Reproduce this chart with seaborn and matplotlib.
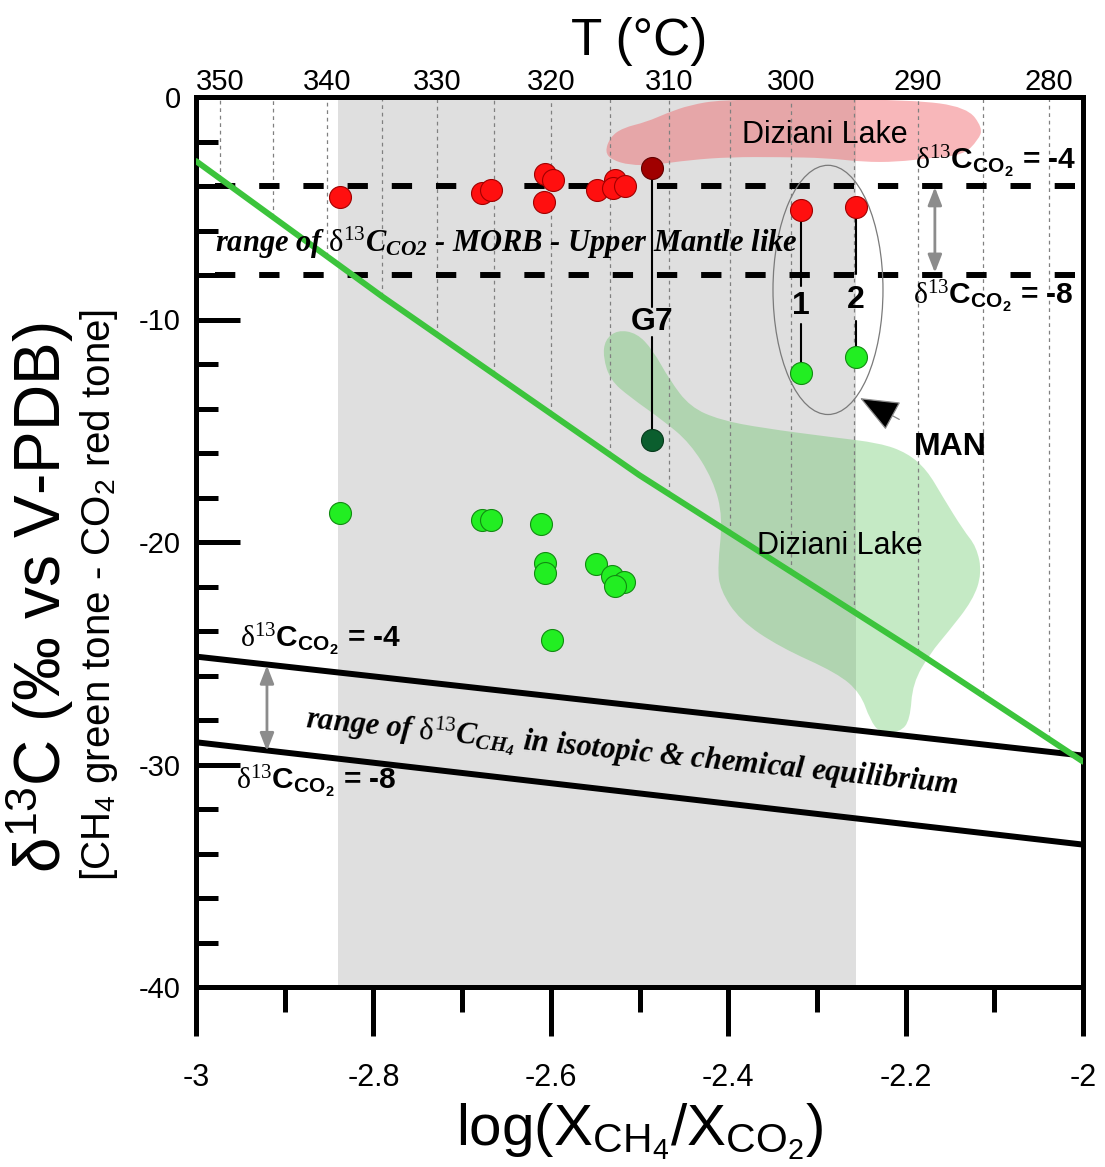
import numpy as np
import pandas as pd
import matplotlib
matplotlib.use("Agg")
import matplotlib.pyplot as plt
import seaborn as sns
from matplotlib.patches import PathPatch, Ellipse
from matplotlib.path import Path
from matplotlib.ticker import MultipleLocator, FixedLocator, FixedFormatter

# ---------------- data ----------------
# CO2 (red) and CH4 (green) isotope compositions of the gas samples
co2_x = [-2.838, -2.678, -2.667, -2.606, -2.598, -2.608, -2.548, -2.528, -2.530, -2.516]
co2_y = [-4.48, -4.30, -4.18, -3.47, -3.73, -4.70, -4.18, -3.73, -4.10, -4.00]
ch4_x = [-2.838, -2.678, -2.667, -2.611, -2.606, -2.607, -2.549, -2.531, -2.518, -2.528, -2.599]
ch4_y = [-18.71, -19.01, -19.01, -19.20, -20.96, -21.40, -21.00, -21.55, -21.78, -21.97, -24.40]

# sample G7
g7_x = -2.486
g7_co2 = -3.17
g7_ch4 = -15.42

# MAN samples 1 and 2
man_x = [-2.318, -2.256]
man_co2 = [-5.08, -4.96]
man_ch4 = [-12.42, -11.67]
man_ids = ["1", "2"]

# CH4 isotope curve (green line)
curve_x = [-3.0, -2.79, -2.5, -2.185, -2.0]
curve_y = [-2.88, -8.97, -17.0, -25.0, -29.87]

# equilibrium lines for d13C_CO2 = -4 and -8
eq_x = [-3.0, -2.0]
eq_upper = [-25.15, -29.6]
eq_lower = [-29.0, -33.6]

# MORB-like range of d13C_CO2
morb_levels = [-4, -8]

# shaded range of log(XCH4/XCO2)
band = (-2.84, -2.256)

# tick labels
x_ticks = [-3, -2.8, -2.6, -2.4, -2.2, -2]
x_labels = ["-3", "-2.8", "-2.6", "-2.4", "-2.2", "-2"]
y_ticks = [-40, -30, -20, -10, 0]
y_labels = ["-40", "-30", "-20", "-10", "0"]

# temperature grid (degC) for the top axis
t_ticks = [350, 340, 330, 320, 310, 300, 290, 280]
t_lines = [350, 345, 340, 335, 330, 325, 320, 315, 310, 305, 300, 295, 290, 285, 280]
t_a, t_b = -10.353, 4599.0   # log(XCH4/XCO2) = a + b / T(K)

# Diziani Lake fields
lake_co2_x = [-2.539, -2.533, -2.519, -2.492, -2.469, -2.443, -2.409, -2.319, -2.192, -2.131,
              -2.113, -2.118, -2.135, -2.172, -2.210, -2.248, -2.289, -2.342, -2.398, -2.443,
              -2.485, -2.511, -2.531]
lake_co2_y = [-2.47, -1.80, -1.39, -1.12, -0.72, -0.36, -0.13, -0.09, -0.13, -0.45,
              -1.39, -1.93, -2.61, -2.74, -2.92, -2.92, -2.74, -2.70, -2.70, -2.83,
              -3.06, -3.06, -2.83]
lake_ch4_x = [-2.539, -2.525, -2.503, -2.485, -2.466, -2.443, -2.409, -2.361, -2.285, -2.229,
              -2.198, -2.176, -2.158, -2.135, -2.120, -2.114, -2.124, -2.153, -2.172, -2.192,
              -2.195, -2.206, -2.229, -2.240, -2.251, -2.277, -2.342, -2.387, -2.409, -2.412,
              -2.406, -2.417, -2.443, -2.474, -2.511, -2.533, -2.541]
lake_ch4_y = [-10.92, -10.47, -10.61, -11.37, -12.72, -13.93, -14.52, -14.88, -15.28, -15.55,
              -16.00, -16.76, -17.98, -19.46, -20.22, -21.39, -22.61, -24.09, -24.99, -26.34,
              -28.00, -28.54, -28.58, -28.00, -26.79, -25.89, -24.72, -23.51, -22.16, -21.12,
              -18.88, -17.21, -15.55, -14.52, -13.48, -12.72, -11.69]

# ---------------- style ----------------
sns.set_theme(style="white")
plt.rcParams["font.family"] = ["Liberation Sans", "DejaVu Sans"]
plt.rcParams["mathtext.fontset"] = "custom"
plt.rcParams["mathtext.rm"] = "Liberation Serif"
plt.rcParams["mathtext.it"] = "Liberation Serif:italic"
plt.rcParams["mathtext.bf"] = "Liberation Sans:bold"
plt.rcParams["mathtext.sf"] = "Liberation Sans"
plt.rcParams["mathtext.bfit"] = "Liberation Serif:bold:italic"
plt.rcParams["axes.unicode_minus"] = False
for key in ["text.color", "axes.labelcolor", "xtick.color", "ytick.color", "axes.edgecolor"]:
    plt.rcParams[key] = "black"

W, H = 1105, 1167
fig = plt.figure(figsize=(W / 100, H / 100), dpi=100)
ax = fig.add_axes([196 / W, 1 - 987 / H, 887 / W, 890 / H])
ax.set_facecolor("white")

# shaded band
ax.axvspan(*band, color="#dfdfdf", lw=0, zorder=0)


def smooth_patch(xs, ys, **kw):
    pts = np.column_stack([xs, ys])
    n = len(pts)
    mids = (pts + np.roll(pts, -1, axis=0)) / 2
    verts = [mids[-1]]
    codes = [Path.MOVETO]
    for i in range(n):
        verts += [pts[i], mids[i]]
        codes += [Path.CURVE3, Path.CURVE3]
    verts.append(mids[-1])
    codes.append(Path.CLOSEPOLY)
    return PathPatch(Path(verts, codes), **kw)


ax.add_patch(smooth_patch(lake_co2_x, lake_co2_y, fc=(0.94, 0.38, 0.40), alpha=0.45, lw=0, zorder=1))
ax.add_patch(smooth_patch(lake_ch4_x, lake_ch4_y, fc=(0.30, 0.75, 0.30), alpha=0.32, lw=0, zorder=1))

# temperature isolines down to the CH4 curve
tl_x = [t_a + t_b / (t + 273.15) for t in t_lines]
tl_y = np.interp(tl_x, curve_x, curve_y)
ax.vlines(tl_x, tl_y, 0, colors="#808080", linestyles=(0, (3, 3)), lw=0.9, zorder=2)

# MORB-like d13C_CO2 range
for lv in morb_levels:
    sns.lineplot(x=[-2.979, -2.0], y=[lv, lv], ax=ax, color="black", lw=4.3,
                 zorder=3).lines[-1].set_dashes((3.4, 4.0))

# equilibrium lines and CH4 curve
sns.lineplot(x=eq_x, y=eq_upper, ax=ax, color="black", lw=4.3, zorder=3)
sns.lineplot(x=eq_x, y=eq_lower, ax=ax, color="black", lw=4.3, zorder=3)
sns.lineplot(x=curve_x, y=curve_y, ax=ax, color="#3cc43c", lw=4.3, zorder=4)

# tie lines between CO2 and CH4 of the same sample (broken around the label)
tie_gaps = {"G7": (-9.45, -10.8), "1": (-8.5, -10.2), "2": (-7.95, -10.05)}
ax.plot([g7_x, g7_x], [g7_co2, tie_gaps["G7"][0]], color="black", lw=1.5, zorder=5)
ax.plot([g7_x, g7_x], [tie_gaps["G7"][1], g7_ch4], color="black", lw=1.5, zorder=5)
for x, c, m, k in zip(man_x, man_co2, man_ch4, man_ids):
    ax.plot([x, x], [c, tie_gaps[k][0]], color="black", lw=1.5, zorder=5)
    ax.plot([x, x], [tie_gaps[k][1], m], color="black", lw=1.5, zorder=5)

# sample points
pts = pd.DataFrame({
    "x": co2_x + ch4_x + man_x + man_x + [g7_x, g7_x],
    "y": co2_y + ch4_y + man_co2 + man_ch4 + [g7_co2, g7_ch4],
    "kind": (["CO2"] * len(co2_x) + ["CH4"] * len(ch4_x) + ["CO2"] * 2 + ["CH4"] * 2
             + ["CO2 G7", "CH4 G7"]),
})
face = {"CO2": "#ff0f0f", "CH4": "#22ee22", "CO2 G7": "#a00000", "CH4 G7": "#0b5e2e"}
edge = {"CO2": "#a00000", "CH4": "#128a12", "CO2 G7": "#600000", "CH4 G7": "#063a1b"}
for kind, sub in pts.groupby("kind", sort=False):
    sns.scatterplot(data=sub, x="x", y="y", ax=ax, color=face[kind], edgecolor=edge[kind],
                    linewidth=0.8, s=250, zorder=6, legend=False)

# MAN group ellipse and pointer
ax.add_patch(Ellipse((-2.2875, -8.67), 0.124, 11.2, fill=False, ec="#7a7a7a", lw=0.9, zorder=5))
ax.annotate("MAN", xy=(-2.2514, -13.53), xytext=(-2.150, -15.73), fontsize=23,
            fontweight="bold", ha="center", va="center", zorder=7,
            arrowprops=dict(arrowstyle="-|>,head_length=1.1,head_width=0.45", fc="black",
                            ec="#8a8a8a", lw=0.9, shrinkA=14, shrinkB=0))

# double-headed grey range arrows
for xa, y0, y1 in [(-2.167, -4.05, -7.9), (-2.920, -25.55, -29.4)]:
    ax.annotate("", xy=(xa, y1), xytext=(xa, y0), zorder=7,
                arrowprops=dict(arrowstyle="<|-|>,head_length=0.9,head_width=0.35",
                                color="#8c8c8c", lw=2, shrinkA=0, shrinkB=0))

# labels inside the plot
co2_lbl = r"$\mathrm{\delta^{13}}\mathbf{C}_{\mathbf{CO_2}}$ = {}"
for xt, yt, val in [(-2.099, -2.92, "-4"), (-2.101, -8.99, "-8"),
                    (-2.860, -24.4, "-4"), (-2.865, -30.8, "-8")]:
    ax.text(xt, yt, co2_lbl.replace("{}", val), fontsize=21.5, fontweight="bold",
            ha="center", va="center", zorder=7)

ax.text(-2.291, -1.71, "Diziani Lake", fontsize=22, ha="center", va="center", zorder=7)
ax.text(-2.274, -20.18, "Diziani Lake", fontsize=22, ha="center", va="center", zorder=7)
ax.text(g7_x, -10.11, "G7", fontsize=23, fontweight="bold", ha="center", va="center", zorder=7)
ax.text(man_x[0], -9.39, man_ids[0], fontsize=23, fontweight="bold", ha="center", va="center", zorder=7)
ax.text(man_x[1], -9.12, man_ids[1], fontsize=23, fontweight="bold", ha="center", va="center", zorder=7)

ax.text(-2.979, -6.56,
        r"range of $\mathrm{\delta^{13}}\mathbfit{C}_{\mathbfit{CO2}}$ - MORB - Upper Mantle like",
        family="Liberation Serif", style="italic", fontweight="bold", fontsize=22,
        ha="left", va="center", zorder=7)
ax.text(-2.508, -29.44,
        r"range of $\mathrm{\delta^{13}}\mathbfit{C}_{\mathbfit{CH_4}}$ in isotopic & chemical equilibrium",
        family="Liberation Serif", style="italic", fontweight="bold", fontsize=22,
        ha="center", va="center", rotation=-5.8, rotation_mode="anchor", zorder=7)

# ---------------- axes ----------------
ax.set_xlim(-3, -2)
ax.set_ylim(-40, 0)
ax.xaxis.set_major_locator(FixedLocator(x_ticks))
ax.xaxis.set_major_formatter(FixedFormatter(x_labels))
ax.xaxis.set_minor_locator(MultipleLocator(0.1))
ax.yaxis.set_major_locator(FixedLocator(y_ticks))
ax.yaxis.set_major_formatter(FixedFormatter(y_labels))
ax.yaxis.set_minor_locator(MultipleLocator(2))
for s in ax.spines.values():
    s.set_linewidth(3.6)
    s.set_color("black")
ax.tick_params(axis="x", which="major", direction="out", length=35, width=3.6, pad=20,
               labelsize=22, bottom=True)
ax.tick_params(axis="x", which="minor", direction="out", length=18, width=3.6, bottom=True)
ax.tick_params(axis="y", which="major", direction="in", length=32, width=3.6, pad=11,
               labelsize=21, left=True)
ax.tick_params(axis="y", which="minor", direction="in", length=16, width=3.6, left=True)
ax.set_xlabel(r"log(X$_{\mathsf{CH_4}}$/X$_{\mathsf{CO_2}}$)", fontsize=42, labelpad=6)
ax.set_ylabel("")

top = ax.secondary_xaxis("top", functions=(lambda x: t_b / (np.asarray(x) - t_a) - 273.15,
                                           lambda t: t_a + t_b / (np.asarray(t) + 273.15)))
top.set_xticks(t_ticks)
top.set_xticklabels([str(t) for t in t_ticks])
top.tick_params(length=0, pad=1, labelsize=21)
top.spines["top"].set_linewidth(3.6)
top.set_xlabel("T (°C)", fontsize=37, labelpad=9)

fig.text(40 / W, 1 - 598 / H, r"$\mathsf{\delta^{13}}$C (‰ vs V-PDB)", rotation=90,
         fontsize=46, ha="center", va="center")
fig.text(99 / W, 1 - 595 / H, r"[CH$_\mathsf{4}$ green tone - CO$_\mathsf{2}$ red tone]",
         rotation=90, fontsize=29, ha="center", va="center")

fig.savefig("out.png", dpi=100)
